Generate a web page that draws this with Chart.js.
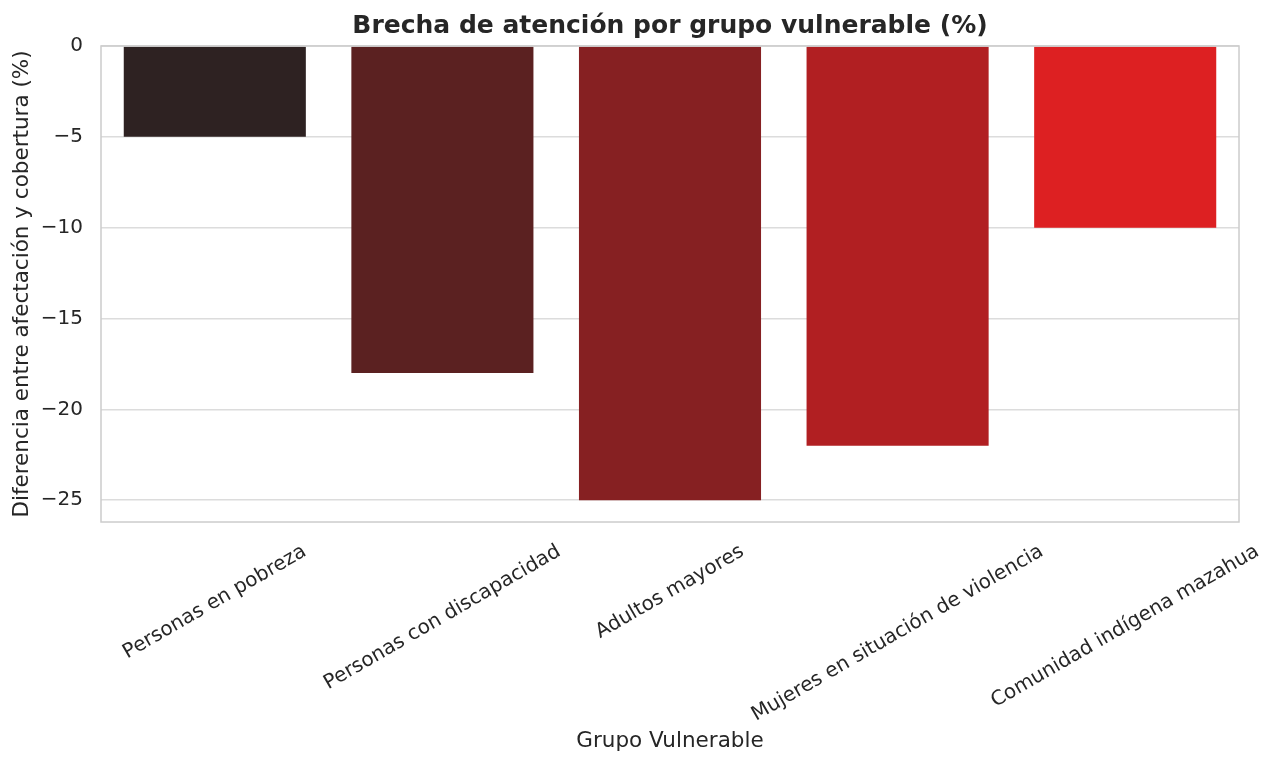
<!DOCTYPE html>
<html lang="es">
<head>
    <meta charset="UTF-8">
    <title>Brecha de atención por grupo vulnerable</title>
    <script src="https://cdn.jsdelivr.net/npm/chart.js"></script>
    <style>
        html, body { margin: 0; padding: 0; background: #ffffff; }
        #wrap { width: 1279px; height: 758px; position: relative; }
    </style>
</head>
<body>
    <div id="wrap"><canvas id="gap-chart"></canvas></div>
    <script>
        // data
        const categories = [
            "Personas en pobreza",
            "Personas con discapacidad",
            "Adultos mayores",
            "Mujeres en situación de violencia",
            "Comunidad indígena mazahua"
        ];
        const gapValues = [-5, -18, -25, -22, -10];
        const barColors = ['#2e2222', '#5b2121', '#862022', '#b11f22', '#dd2022'];

        const chartTitle = "Brecha de atención por grupo vulnerable (%)";
        const xAxisTitle = "Grupo Vulnerable";
        const yAxisTitle = "Diferencia entre afectación y cobertura (%)";

        const fontFamily = '"DejaVu Sans", sans-serif';
        const textColor = '#262626';
        const tickSize = 20;

        // matplotlib-style centred rotated labels (Chart.js right-aligns rotated ticks)
        const rotatedLabels = {
            id: 'rotatedLabels',
            afterDatasetsDraw(chart) {
                const { ctx, chartArea } = chart;
                ctx.save();
                ctx.strokeStyle = '#cccccc';
                ctx.lineWidth = 1.5;
                ctx.strokeRect(chartArea.left, chartArea.top, chartArea.right - chartArea.left, chartArea.bottom - chartArea.top);
                ctx.restore();
            },
            afterDraw(chart) {
                const { ctx, chartArea, scales } = chart;
                const ang = 30 * Math.PI / 180;
                ctx.save();
                ctx.font = `${tickSize}px ${fontFamily}`;
                ctx.fillStyle = textColor;
                ctx.textAlign = 'center';
                ctx.textBaseline = 'middle';
                categories.forEach((label, i) => {
                    const w = ctx.measureText(label).width;
                    const h = tickSize * 1.17;
                    const boxH = w * Math.sin(ang) + h * Math.cos(ang);
                    const cx = scales.x.getPixelForValue(i);
                    const cy = chartArea.bottom + 18 + boxH / 2;
                    ctx.save();
                    ctx.translate(cx, cy);
                    ctx.rotate(-ang);
                    ctx.fillText(label, 0, 0);
                    ctx.restore();
                });
                ctx.restore();
            }
        };

        new Chart(document.getElementById('gap-chart'), {
            type: 'bar',
            data: {
                labels: categories,
                datasets: [{
                    data: gapValues,
                    backgroundColor: barColors,
                    borderWidth: 0,
                    categoryPercentage: 0.8,
                    barPercentage: 1.0
                }]
            },
            options: {
                responsive: true,
                maintainAspectRatio: false,
                animation: false,
                layout: { padding: { top: 0, right: 40, bottom: 0, left: 0 } },
                plugins: {
                    legend: { display: false },
                    tooltip: { enabled: false },
                    title: {
                        display: true,
                        fullSize: false,
                        text: chartTitle,
                        color: textColor,
                        font: { family: fontFamily, size: 25, weight: 'bold' },
                        padding: { top: 11, bottom: 5 }
                    }
                },
                scales: {
                    x: {
                        grid: { display: false },
                        border: { display: false },
                        ticks: { display: false },
                        title: {
                            display: true,
                            text: xAxisTitle,
                            color: textColor,
                            font: { family: fontFamily, size: 21.5 },
                            padding: { top: 4, bottom: 4 }
                        },
                        afterFit(scale) { scale.height = 236; }
                    },
                    y: {
                        min: -26.2,
                        max: 0,
                        grid: { color: '#dcdcdc', lineWidth: 1.5, drawTicks: false },
                        border: { display: false },
                        ticks: {
                            stepSize: 5,
                            includeBounds: false,
                            padding: 18,
                            color: textColor,
                            font: { family: fontFamily, size: tickSize },
                            callback: v => String(v).replace('-', '\u2212')
                        },
                        title: {
                            display: true,
                            text: yAxisTitle,
                            color: textColor,
                            font: { family: fontFamily, size: 21.5 },
                            padding: { top: 10, bottom: 0 }
                        },
                        afterFit(scale) { scale.width = 101; }
                    }
                }
            },
            plugins: [rotatedLabels]
        });
    </script>
</body>
</html>
